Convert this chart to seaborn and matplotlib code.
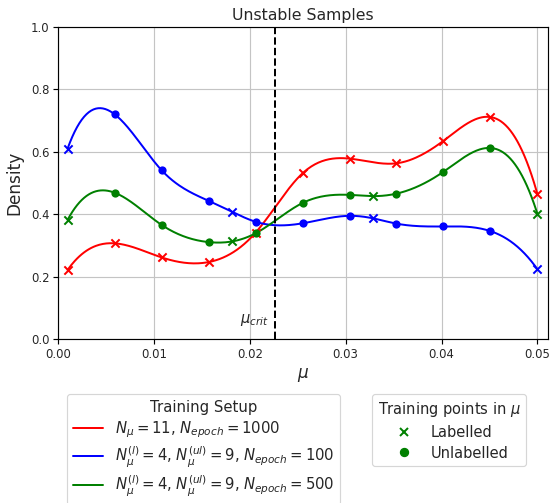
import numpy as np
import pandas as pd
import matplotlib
matplotlib.use("Agg")
import matplotlib.pyplot as plt
from matplotlib.lines import Line2D
import seaborn as sns

# ---------------- data ----------------
mu_all = [0.001, 0.0059, 0.0108, 0.0157, 0.0206, 0.0255, 0.0304, 0.0353, 0.0402, 0.0451, 0.05]
mu_lab = [0.001, 0.01815, 0.03285, 0.05]
mu_unlab = [0.0059, 0.0108, 0.0157, 0.0206, 0.0255, 0.0304, 0.0353, 0.0402, 0.0451]

red_y = [0.222, 0.307, 0.262, 0.247, 0.341, 0.531, 0.578, 0.563, 0.635, 0.711, 0.464]
blue_lab = [0.610, 0.408, 0.387, 0.224]
blue_unlab = [0.720, 0.541, 0.443, 0.376, 0.371, 0.395, 0.370, 0.361, 0.346]
green_lab = [0.382, 0.313, 0.458, 0.401]
green_unlab = [0.469, 0.366, 0.311, 0.339, 0.436, 0.462, 0.466, 0.536, 0.612]

mu_crit = 0.02266
labels = [r"$N_\mu = 11$, $N_{epoch} = 1000$",
          r"$N_\mu^{(l)} = 4$, $N_\mu^{(ul)} = 9$, $N_{epoch} = 100$",
          r"$N_\mu^{(l)} = 4$, $N_\mu^{(ul)} = 9$, $N_{epoch} = 500$"]
colors = ["red", "blue", "green"]


def cubic_spline(x, y, xs):
    """Not-a-knot cubic spline through (x, y), evaluated at xs."""
    x = np.asarray(x, float); y = np.asarray(y, float)
    n = len(x)
    h = np.diff(x)
    A = np.zeros((n, n)); b = np.zeros(n)
    A[0, 0] = -h[1]; A[0, 1] = h[0] + h[1]; A[0, 2] = -h[0]
    A[-1, -3] = -h[-1]; A[-1, -2] = h[-2] + h[-1]; A[-1, -1] = -h[-2]
    for i in range(1, n - 1):
        A[i, i - 1] = h[i - 1]
        A[i, i] = 2 * (h[i - 1] + h[i])
        A[i, i + 1] = h[i]
        b[i] = 3 * ((y[i + 1] - y[i]) / h[i] - (y[i] - y[i - 1]) / h[i - 1])
    c = np.linalg.solve(A, b)
    bb = (y[1:] - y[:-1]) / h - h * (2 * c[:-1] + c[1:]) / 3
    d = (c[1:] - c[:-1]) / (3 * h)
    idx = np.clip(np.searchsorted(x, xs) - 1, 0, n - 2)
    dx = xs - x[idx]
    return y[idx] + bb[idx] * dx + c[idx] * dx ** 2 + d[idx] * dx ** 3


def merge(xl, yl, xu, yu):
    pts = sorted(zip(list(xl) + list(xu), list(yl) + list(yu)))
    return [p[0] for p in pts], [p[1] for p in pts]


bx, by = merge(mu_lab, blue_lab, mu_unlab, blue_unlab)
gx, gy = merge(mu_lab, green_lab, mu_unlab, green_unlab)

xs = np.linspace(0.001, 0.05, 400)
curves = pd.concat([
    pd.DataFrame({"mu": xs, "density": cubic_spline(mu_all, red_y, xs), "setup": labels[0]}),
    pd.DataFrame({"mu": xs, "density": cubic_spline(bx, by, xs), "setup": labels[1]}),
    pd.DataFrame({"mu": xs, "density": cubic_spline(gx, gy, xs), "setup": labels[2]}),
])

# ---------------- figure ----------------
sns.set_style("ticks")
plt.rcParams["font.family"] = ["DejaVu Sans"]
plt.rcParams["mathtext.fontset"] = "dejavusans"

DPI = 84
fig = plt.figure(figsize=(552 / DPI, 503 / DPI), dpi=DPI)
ax = fig.add_axes([58 / 552, 1 - 339.3 / 503, 490 / 552, 312.6 / 503])

sns.lineplot(data=curves, x="mu", y="density", hue="setup", palette=colors,
             hue_order=labels, ax=ax, linewidth=1.7, legend=False, sort=False,
             estimator=None)

ms = 50
sns.scatterplot(x=mu_all, y=red_y, color="red", marker="x", s=ms, linewidth=1.7, ax=ax, zorder=3)
sns.scatterplot(x=mu_lab, y=blue_lab, color="blue", marker="x", s=ms, linewidth=1.7, ax=ax, zorder=3)
sns.scatterplot(x=mu_unlab, y=blue_unlab, color="blue", marker="o", s=ms, linewidth=0, ax=ax, zorder=3)
sns.scatterplot(x=mu_lab, y=green_lab, color="green", marker="x", s=ms, linewidth=1.7, ax=ax, zorder=3)
sns.scatterplot(x=mu_unlab, y=green_unlab, color="green", marker="o", s=ms, linewidth=0, ax=ax, zorder=3)

ax.axvline(mu_crit, color="black", linestyle="--", linewidth=1.7, zorder=4)
ax.text(mu_crit - 0.0007, 0.035, r"$\mu_{crit}$", ha="right", va="bottom", fontsize=12.5)

ax.set_xlim(0, 0.0511)
ax.set_ylim(0, 1.0)
ax.set_xticks([0.0, 0.01, 0.02, 0.03, 0.04, 0.05])
ax.set_xticklabels(["0.00", "0.01", "0.02", "0.03", "0.04", "0.05"])
ax.set_yticks([0.0, 0.2, 0.4, 0.6, 0.8, 1.0])
ax.tick_params(labelsize=10, width=1, length=4, color="black")
ax.grid(True, color="#c4c4c4", linewidth=1)
ax.set_axisbelow(True)
for s in ax.spines.values():
    s.set_visible(True)
    s.set_color("black")
    s.set_linewidth(1)

ax.set_title("Unstable Samples", fontsize=13.5, pad=6)
ax.set_xlabel(r"$\mu$", fontsize=14.5, labelpad=4)
ax.set_ylabel("Density", fontsize=14.5, labelpad=6)

h1 = [Line2D([], [], color=c, linewidth=1.7) for c in colors]
leg1 = fig.legend(h1, labels, title="Training Setup", loc="upper left",
                  bbox_to_anchor=(67 / 552, 1 - 394 / 503), borderaxespad=0,
                  fontsize=12.8, title_fontsize=12.8, frameon=True, labelspacing=0.3)
h2 = [Line2D([], [], color="green", marker="x", linestyle="none", markersize=6.5, markeredgewidth=1.7),
      Line2D([], [], color="green", marker="o", linestyle="none", markersize=7)]
leg2 = fig.legend(h2, ["Labelled", "Unlabelled"], title=r"Training points in $\mu$",
                  loc="upper left", bbox_to_anchor=(372 / 552, 1 - 394 / 503), borderaxespad=0,
                  fontsize=12.5, title_fontsize=12.5, frameon=True, labelspacing=0.4)

fig.savefig("out.png", dpi=DPI)
